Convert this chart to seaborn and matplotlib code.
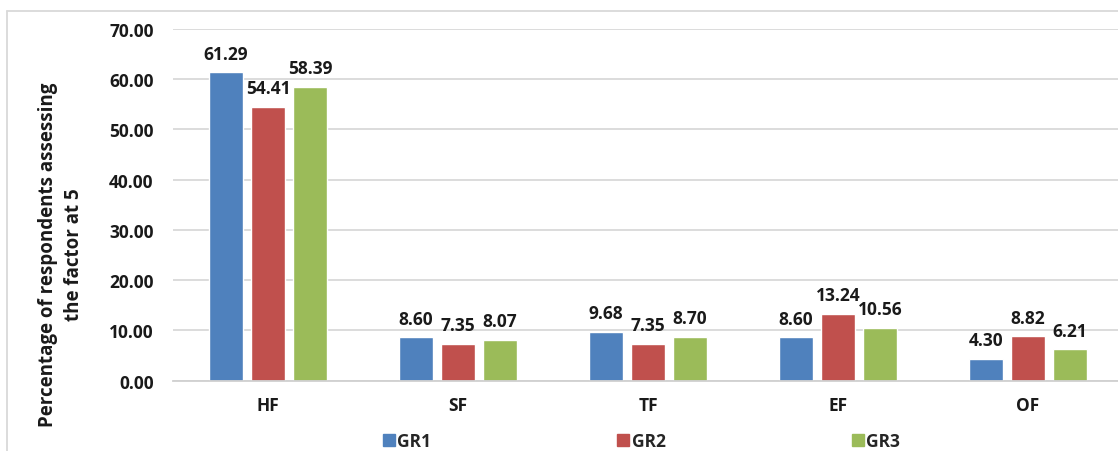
import matplotlib
matplotlib.use("Agg")
import matplotlib.pyplot as plt
import seaborn as sns
import pandas as pd
from matplotlib.lines import Line2D

categories = ["HF", "SF", "TF", "EF", "OF"]
groups = ["GR1", "GR2", "GR3"]
gr1 = [61.29, 8.60, 9.68, 8.60, 4.30]
gr2 = [54.41, 7.35, 7.35, 13.24, 8.82]
gr3 = [58.39, 8.07, 8.70, 10.56, 6.21]
yticks = [0, 10, 20, 30, 40, 50, 60, 70]
colors = ["#4F81BD", "#C0504D", "#9BBB59"]

rows = []
for g, vals in zip(groups, [gr1, gr2, gr3]):
    for c, v in zip(categories, vals):
        rows.append({"cat": c, "grp": g, "val": v})
df = pd.DataFrame(rows)

sns.set_style("white")
plt.rcParams["font.family"] = ["Open Sans", "DejaVu Sans"]
plt.rcParams["font.weight"] = "bold"

FS = 12.5
W, H = 1118, 452
fig = plt.figure(figsize=(W / 100, H / 100), dpi=100)
left, right_px, top, bottom = 173, 1118, 29.7, 381.7
ax = fig.add_axes([left / W, 1 - bottom / H, (right_px - left) / W, (bottom - top) / H])

sns.barplot(data=df, x="cat", y="val", hue="grp", palette=colors, ax=ax,
            width=0.663, gap=0.21, order=categories, hue_order=groups,
            legend=False, errorbar=None, saturation=1)

for cont in ax.containers:
    ax.bar_label(cont, fmt="%.2f", padding=7, fontsize=FS, fontweight="bold",
                 color="#1a1a1a")

ax.set_ylim(0, 70)
ax.set_xlim(-0.5, 4.474)
ax.set_yticks(yticks)
ax.set_yticklabels([f"{t:.2f}" for t in yticks])
ax.yaxis.grid(True, color="#D9D9D9", linewidth=1.3)
ax.set_axisbelow(True)
for s in ["top", "right", "left"]:
    ax.spines[s].set_visible(False)
ax.spines["bottom"].set_color("#D0D0D0")
ax.spines["bottom"].set_linewidth(1.3)
ax.tick_params(axis="y", length=0, pad=14, labelsize=FS, labelcolor="#1a1a1a")
ax.tick_params(axis="x", length=0, pad=11, labelsize=FS, labelcolor="#1a1a1a")
for lab in ax.get_xticklabels() + ax.get_yticklabels():
    lab.set_fontweight("bold")
ax.set_xlabel("")
ax.set_ylabel("")

fig.text(48 / W, 1 - 255 / H, "Percentage of respondents assessing",
         rotation=90, ha="center", va="center", fontsize=13.5,
         fontweight="bold", color="#1a1a1a")
fig.text(74 / W, 1 - 255 / H, "the factor at 5",
         rotation=90, ha="center", va="center", fontsize=13.5,
         fontweight="bold", color="#1a1a1a")

handles = [Line2D([0], [0], marker="s", linestyle="", markersize=8,
                  markerfacecolor=c, markeredgecolor=c) for c in colors]
fig.legend(handles, groups, loc="center", bbox_to_anchor=(641 / W, 1 - 442 / H),
           ncol=3, frameon=False, handletextpad=0.1,
           columnspacing=10.65, handlelength=0.8, prop={"weight": "bold", "size": FS})

# outer frame (top and left)
fig.add_artist(Line2D([7 / W, 7 / W], [0, 1 - 11.5 / H], transform=fig.transFigure,
                      color="#D9D9D9", linewidth=1.3))
fig.add_artist(Line2D([7 / W, 1], [1 - 11.5 / H, 1 - 11.5 / H], transform=fig.transFigure,
                      color="#D9D9D9", linewidth=1.3))

fig.savefig("out.png", dpi=100)
